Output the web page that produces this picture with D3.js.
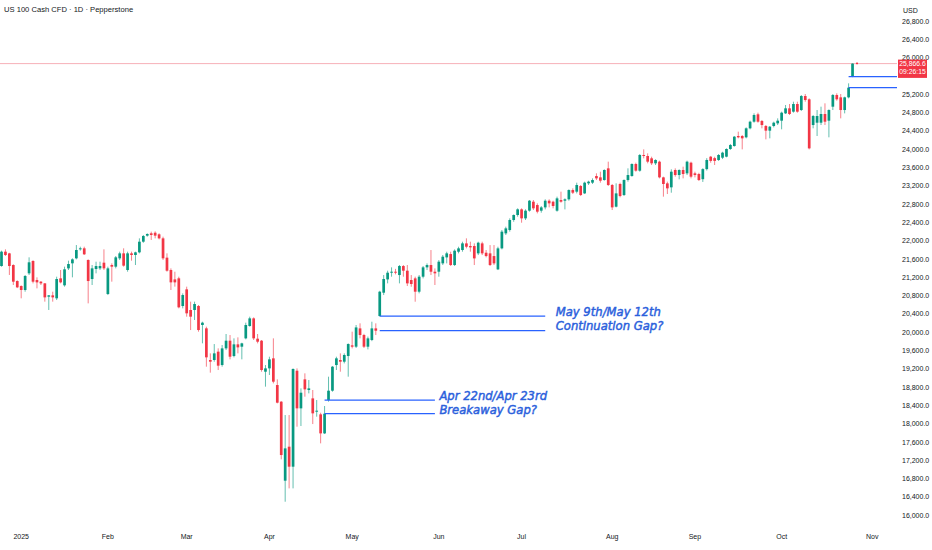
<!DOCTYPE html>
<html>
<head>
<meta charset="utf-8">
<script src="https://cdn.jsdelivr.net/npm/d3@7"></script>
<style>
  body { margin: 0; background: #fff; }
  svg { display: block; font-family: "Liberation Sans", Arial, sans-serif; }
</style>
</head>
<body>
<svg id="chart" width="932" height="550"></svg>
<script>
// US 100 daily candles with gap annotations.

const title = "US 100 Cash CFD · 1D · Pepperstone";
const currency = "USD";

// trading calendar (weekdays, minus full closures)
const firstDay = "2024-12-24";
const lastDay = "2025-11-11";
const closedDays = ["2024-12-25", "2025-01-01", "2025-04-18"];

const monthLabels = ["2025", "Feb", "Mar", "Apr", "May", "Jun", "Jul", "Aug", "Sep", "Oct", "Nov"];

const priceTicks = [
  16000, 16400, 16800, 17200, 17600, 18000, 18400, 18800, 19200, 19600,
  20000, 20400, 20800, 21200, 21600, 22000, 22400, 22800, 23200, 23600,
  24000, 24400, 24800, 25200, 25600, 26000, 26400, 26800,
];

// [open, high, low, close], one per trading day from firstDay
const ohlc = [
  [21442, 21778, 21428, 21756], [21756, 21807, 21661, 21683], [21719, 21730, 21246, 21442],
  [21464, 21480, 21027, 21100], [21114, 21130, 20960, 20976], [21005, 21020, 20736, 20918],
  [20918, 21246, 20881, 21224], [21282, 21632, 21246, 21523], [21552, 21570, 21063, 21100],
  [21136, 21195, 20954, 21085], [21100, 21114, 21027, 21063], [21063, 21070, 20663, 20757],
  [20772, 20808, 20481, 20801], [20801, 20881, 20663, 20757], [20736, 21209, 20699, 21158],
  [21173, 21355, 21063, 21085], [21020, 21428, 20991, 21370], [21391, 21559, 21355, 21486],
  [21501, 21610, 21195, 21588], [21610, 21901, 21588, 21792], [21807, 21865, 21778, 21829],
  [21829, 21865, 21683, 21698], [21574, 21588, 20626, 21114], [21158, 21464, 21027, 21391],
  [21377, 21537, 21282, 21442], [21391, 21537, 21355, 21442], [21515, 21807, 21355, 21391],
  [20830, 21428, 20808, 21391], [21464, 21501, 21100, 21428], [21428, 21661, 21391, 21632],
  [21610, 21756, 21574, 21719], [21719, 21829, 21428, 21450], [21355, 21756, 21318, 21719],
  [21719, 21756, 21559, 21683], [21683, 21756, 21464, 21741], [21741, 22047, 21719, 21974],
  [21974, 22120, 21950, 22098], [22106, 22157, 22084, 22142], [22157, 22193, 22011, 22120],
  [22170, 22200, 22047, 22106], [22135, 22157, 22025, 22047], [22047, 22084, 21574, 21610],
  [21625, 21719, 21318, 21340], [21355, 21391, 20918, 21085], [21150, 21318, 20991, 21085],
  [21173, 21209, 20517, 20539], [20568, 20844, 20517, 20808], [20932, 20991, 20335, 20408],
  [20481, 20663, 20043, 20335], [20481, 20663, 20262, 20612], [20568, 20590, 20007, 20043],
  [20153, 20225, 19752, 20204], [20080, 20116, 19242, 19446], [19388, 19533, 19111, 19351],
  [19388, 19737, 19351, 19533], [19570, 19642, 19169, 19264], [19278, 19715, 19242, 19642],
  [19642, 19956, 19606, 19810], [19810, 19934, 19402, 19460], [19475, 19861, 19446, 19730],
  [19730, 19883, 19533, 19664], [19679, 19766, 19402, 19752], [19861, 20204, 19839, 20153],
  [20131, 20335, 20116, 20298], [20298, 20320, 19825, 19861], [19854, 19956, 19752, 19788],
  [19810, 19825, 19132, 19169], [19132, 19278, 18805, 19205], [19205, 19460, 19060, 19402],
  [19424, 19861, 18877, 18914], [18841, 18965, 18440, 18455], [18477, 18490, 17216, 17311],
  [16750, 18185, 16290, 17456], [17493, 18185, 16582, 17056], [17056, 19205, 16582, 19191],
  [19154, 19205, 17930, 18331], [18331, 18768, 17945, 18673], [18965, 19096, 18586, 18746],
  [18732, 18950, 18659, 18768], [18549, 18732, 17988, 18222], [18258, 18513, 18149, 18280],
  [18200, 18236, 17566, 17784], [17784, 18382, 17770, 18214], [18513, 19023, 18477, 18717],
  [18717, 19256, 18695, 19242], [19278, 19460, 19169, 19424], [19388, 19533, 19132, 19351],
  [19351, 19533, 19314, 19497], [19475, 19752, 19023, 19737], [19708, 20007, 19642, 19679],
  [19679, 20153, 19650, 20100], [20079, 20189, 19861, 19934], [19934, 19960, 19650, 19679],
  [19679, 19900, 19620, 19861], [19825, 20225, 19800, 20079], [20079, 20189, 19934, 20028],
  [20349, 20900, 20340, 20881], [20859, 21245, 20808, 21158], [21150, 21340, 21063, 21296],
  [21296, 21413, 21209, 21318], [21318, 21380, 21260, 21296], [21245, 21464, 21063, 21442],
  [21442, 21464, 21209, 21340], [21340, 21464, 21005, 21063], [21136, 21245, 20990, 21049],
  [21172, 21209, 20662, 20881], [20881, 21245, 20845, 21209], [21209, 21442, 21172, 21413],
  [21413, 21500, 21354, 21464], [21464, 21792, 21245, 21318], [21318, 21390, 21027, 21282],
  [21318, 21573, 21209, 21537], [21500, 21683, 21464, 21646], [21631, 21755, 21500, 21719],
  [21704, 21755, 21442, 21464], [21464, 21806, 21442, 21777], [21755, 21864, 21719, 21828],
  [21792, 21974, 21755, 21937], [21937, 22047, 21828, 21864], [21879, 21974, 21755, 21850],
  [21879, 21937, 21464, 21609], [21719, 21974, 21682, 21952], [21937, 21974, 21682, 21719],
  [21733, 21792, 21631, 21660], [21719, 21900, 21442, 21464], [21660, 21900, 21464, 21500],
  [21369, 21864, 21354, 21828], [21828, 22229, 21806, 22193], [22156, 22302, 22120, 22265],
  [22229, 22484, 22193, 22448], [22448, 22570, 22410, 22557], [22557, 22703, 22520, 22681],
  [22681, 22703, 22389, 22484], [22484, 22681, 22448, 22652], [22652, 22885, 22630, 22870],
  [22848, 22885, 22666, 22703], [22775, 22812, 22593, 22630], [22652, 22753, 22608, 22724],
  [22724, 22900, 22680, 22870], [22870, 22900, 22724, 22812], [22848, 22870, 22703, 22754],
  [22652, 22958, 22630, 22921], [22885, 23067, 22826, 22848], [22870, 22921, 22680, 22900],
  [22900, 23118, 22870, 23103], [23103, 23140, 23016, 23045], [23067, 23264, 23030, 23213],
  [23191, 23213, 22972, 22994], [23030, 23286, 23016, 23264], [23249, 23307, 23213, 23286],
  [23264, 23358, 23235, 23322], [23409, 23468, 23322, 23358], [23380, 23504, 23264, 23307],
  [23322, 23556, 23307, 23541], [23577, 23723, 23191, 23213], [23213, 23235, 22666, 22724],
  [22739, 23249, 22724, 23030], [23235, 23264, 22943, 22972], [22994, 23337, 22972, 23322],
  [23322, 23577, 23286, 23431], [23409, 23687, 23395, 23672], [23672, 23701, 23504, 23526],
  [23526, 23890, 23504, 23869], [23869, 23992, 23796, 23847], [23847, 23905, 23687, 23723],
  [23796, 23832, 23650, 23687], [23687, 23775, 23650, 23760], [23723, 23745, 23358, 23380],
  [23380, 23395, 22958, 23235], [23249, 23286, 23016, 23140], [23162, 23556, 23045, 23504],
  [23541, 23577, 23395, 23431], [23431, 23556, 23337, 23541], [23541, 23614, 23358, 23453],
  [23468, 23745, 23431, 23723], [23701, 23723, 23358, 23395], [23468, 23504, 23380, 23431],
  [23453, 23480, 23300, 23322], [23340, 23580, 23280, 23560], [23560, 23800, 23530, 23760],
  [23832, 23847, 23700, 23740], [23800, 23830, 23650, 23740], [23759, 23890, 23740, 23869],
  [23810, 23940, 23780, 23920], [23832, 24014, 23818, 24000], [24000, 24110, 23980, 24087],
  [24065, 24284, 24051, 24269], [24284, 24379, 24233, 24255], [24284, 24306, 23992, 24233],
  [24255, 24473, 24233, 24452], [24452, 24619, 24430, 24597], [24597, 24779, 24575, 24743],
  [24758, 24794, 24575, 24597], [24612, 24634, 24452, 24524], [24503, 24524, 24211, 24401],
  [24401, 24503, 24233, 24488], [24503, 24597, 24473, 24575], [24561, 24670, 24524, 24619],
  [24619, 24816, 24430, 24794], [24779, 24962, 24765, 24889], [24889, 24983, 24743, 24765],
  [24816, 25034, 24794, 24983], [24983, 25034, 24794, 24816], [24852, 25180, 24830, 25158],
  [25158, 25202, 25034, 25071], [25086, 25107, 23992, 24014], [24524, 24743, 24452, 24721],
  [24575, 24852, 24284, 24721], [24575, 24925, 24524, 24765], [24765, 24998, 24524, 24597],
  [24619, 24867, 24255, 24852], [24925, 25202, 24852, 25180], [25180, 25217, 25056, 25086],
  [25129, 25202, 24670, 24852], [24852, 25144, 24779, 25129], [25129, 25435, 25107, 25340],
  [25580, 25873, 25570, 25866.6],
];

const lastPrice = 25866.6;
const countdown = "09:26:15";

// gap = close of "before" day vs open of "after" day
const gaps = [
  { before: "2025-04-22", after: "2025-04-23", from: "2025-04-22", to: "2025-05-30",
    text: ["Apr 22nd/Apr 23rd", "Breakaway Gap?"] },
  { before: "2025-05-09", after: "2025-05-12", from: "2025-05-12", to: "2025-07-09",
    text: ["May 9th/May 12th", "Continuation Gap?"] },
  { before: "2025-10-24", after: "2025-10-27", from: "2025-10-24", to: null, text: [] },
];

// ---- layout
const width = 932;
const height = 550;
const plotRight = 897;
const barStep = 3.94;
const barStart = -0.47;
const upColor = "#089981";
const downColor = "#f23645";
const inkColor = "#131722";
const drawColor = "#2962ff";
const noteColor = "#2b5fdc";
const labelOffset = { "2025-04-22": 4.5, "2025-05-12": 10.5 };

const parse = d3.timeParse("%Y-%m-%d");
const fmt = d3.timeFormat("%Y-%m-%d");

const days = d3.timeDay
  .range(parse(firstDay), d3.timeDay.offset(parse(lastDay), 1))
  .filter((d) => d.getDay() !== 0 && d.getDay() !== 6 && !closedDays.includes(fmt(d)))
  .map(fmt);

const candles = ohlc.map((c, i) => ({
  date: days[i], open: c[0], high: c[1], low: c[2], close: c[3],
}));
const byDate = new Map(candles.map((c) => [c.date, c]));

const monthStarts = days.filter((d, i) => i > 0 && d.slice(5, 7) !== days[i - 1].slice(5, 7));

const x = d3.scaleBand()
  .domain(days)
  .range([barStart, barStart + barStep * days.length]);
const cx = (d) => x(d) + x.bandwidth() / 2;

const y = d3.scaleLinear().domain([16000, 26800]).range([515, 20.9]);

const svg = d3.select("#chart").attr("viewBox", `0 0 ${width} ${height}`);

svg.append("rect").attr("width", width).attr("height", height).attr("fill", "#fff");

svg.append("defs").append("clipPath").attr("id", "plot")
  .append("rect").attr("x", 0).attr("y", 0).attr("width", plotRight).attr("height", 528);

const plot = svg.append("g").attr("clip-path", "url(#plot)");

// last price line
plot.append("line")
  .attr("x1", 0).attr("x2", plotRight)
  .attr("y1", y(lastPrice)).attr("y2", y(lastPrice))
  .attr("stroke", "#f5a8b0").attr("stroke-width", 0.9);

// candles
const bodyW = 2.7;
const candle = plot.append("g").selectAll("g")
  .data(candles)
  .enter()
  .append("g")
  .attr("fill", (d) => (d.close >= d.open ? upColor : downColor))
  .attr("stroke", (d) => (d.close >= d.open ? upColor : downColor));

candle.append("line")
  .attr("x1", (d) => cx(d.date)).attr("x2", (d) => cx(d.date))
  .attr("y1", (d) => y(d.high)).attr("y2", (d) => y(d.low))
  .attr("stroke-width", 0.9)
  .attr("stroke-opacity", 0.7);

candle.append("rect")
  .attr("x", (d) => cx(d.date) - bodyW / 2)
  .attr("width", bodyW)
  .attr("y", (d) => y(Math.max(d.open, d.close)))
  .attr("height", (d) => Math.max(1, Math.abs(y(d.open) - y(d.close))))
  .attr("stroke", "none");

// gap lines + notes
gaps.forEach((g) => {
  const lower = byDate.get(g.before).close;
  const upper = byDate.get(g.after).open;
  const x1 = cx(g.from);
  const x2 = g.to ? cx(g.to) : plotRight;
  [upper, lower].forEach((p) => {
    svg.append("line")
      .attr("x1", x1).attr("x2", x2)
      .attr("y1", y(p)).attr("y2", y(p))
      .attr("stroke", drawColor).attr("stroke-width", 1.3);
  });
  if (g.text.length) {
    const note = svg.append("text")
      .attr("x", x2 + labelOffset[g.from])
      .attr("y", y(upper))
      .attr("fill", noteColor)
      .attr("stroke", noteColor)
      .attr("stroke-width", 0.45)
      .style("font-family", "'DejaVu Sans', Verdana, sans-serif")
      .style("font-style", "italic")
      .style("font-size", "11.6px");
    g.text.forEach((t, i) => {
      note.append("tspan")
        .attr("x", x2 + labelOffset[g.from])
        .attr("dy", i === 0 ? 0 : 13.7)
        .text(t);
    });
  }
});

// little tick right of the last bar
const lastBar = candles[candles.length - 1];
svg.append("rect")
  .attr("x", cx(lastBar.date) + 3.5).attr("y", y(lastPrice) - 1)
  .attr("width", 2).attr("height", 1.6)
  .attr("fill", downColor);

// price axis (labels under the price tag are hidden, as on the platform)
const tagTop = y(lastPrice) - 4;
const tagH = 18.3;
const shownTicks = priceTicks.filter((p) => y(p) < tagTop - 1 || y(p) > tagTop + tagH);

const yAxis = d3.axisRight(y)
  .tickValues(shownTicks)
  .tickSize(0)
  .tickPadding(3)
  .tickFormat(d3.format(",.1f"));

const yg = svg.append("g").attr("transform", `translate(${plotRight + 2},0)`).call(yAxis);
yg.select(".domain").remove();
yg.selectAll("text").attr("fill", inkColor).style("font-size", "7px").style("font-family", null);

svg.append("rect").attr("x", plotRight).attr("y", 0).attr("width", width - plotRight)
  .attr("height", 19).attr("fill", "#fff");
svg.append("text").attr("x", plotRight + 6).attr("y", 13)
  .attr("fill", inkColor).style("font-size", "7px").text(currency);

// last price tag
svg.append("rect")
  .attr("x", plotRight + 1).attr("y", tagTop)
  .attr("width", 29).attr("height", tagH)
  .attr("fill", downColor);
svg.append("text")
  .attr("x", plotRight + 15.5).attr("y", y(lastPrice)).attr("dy", "0.35em")
  .attr("text-anchor", "middle").attr("fill", "#fff").style("font-size", "6.8px")
  .text(d3.format(",.1f")(lastPrice));
svg.append("text")
  .attr("x", plotRight + 15.5).attr("y", y(lastPrice) + 7.6).attr("dy", "0.35em")
  .attr("text-anchor", "middle").attr("fill", "#fff").style("font-size", "6.8px")
  .text(countdown);

// time axis
const xAxis = d3.axisBottom(x)
  .tickValues(monthStarts)
  .tickSize(0)
  .tickPadding(4)
  .tickFormat((d, i) => monthLabels[i]);

const xg = svg.append("g").attr("transform", "translate(0,530)").call(xAxis);
xg.select(".domain").remove();
xg.selectAll("text").attr("fill", inkColor).style("font-size", "7px").style("font-family", null);

// title
svg.append("text").attr("x", 4).attr("y", 12)
  .attr("fill", inkColor).style("font-size", "7.6px").text(title);
</script>
</body>
</html>
